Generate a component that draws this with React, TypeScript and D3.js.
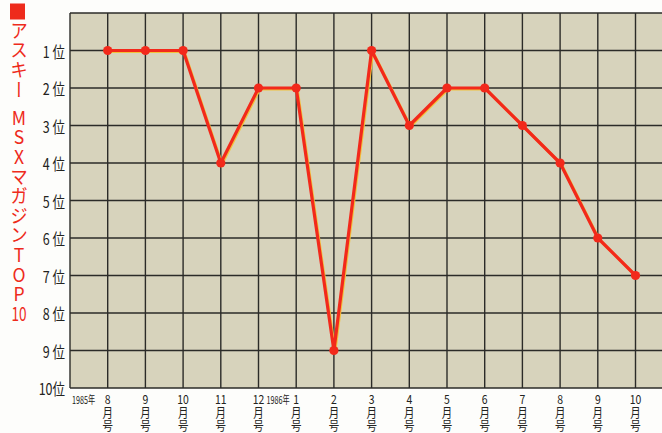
import * as d3 from "d3";
import { useEffect, useRef } from "react";

const months = ["8", "9", "10", "11", "12", "1", "2", "3", "4", "5", "6", "7", "8", "9", "10"];
const ranks = [1, 1, 1, 4, 2, 2, 9, 1, 3, 2, 2, 3, 4, 6, 7];
const rankTicks = [1, 2, 3, 4, 5, 6, 7, 8, 9, 10];
const yearLabels = [
  { index: -1, text: "1985年" },
  { index: 4, text: "1986年" },
];
const titleParts = [
  { top: 21, text: "アスキー" },
  { top: 108, text: "MSXマガジンTOP" },
];
const titleTail = "10";

export default function App() {
  const width = 662;
  const height = 433;
  const ref = useRef<SVGSVGElement>(null);

  useEffect(() => {
    const svg = d3.select(ref.current);
    svg.selectAll("*").remove();

    const left = 70;
    const top = 13;
    const bottom = 388;
    const x = d3.scaleLinear().domain([-1, 14]).range([left, 635.5]);
    const y = d3.scaleLinear().domain([0, 10]).range([top, bottom]);
    const jp = "'Noto Sans CJK JP', 'DejaVu Sans', sans-serif";

    svg.append("rect").attr("width", width).attr("height", height).attr("fill", "#fdfdfb");
    svg
      .append("rect")
      .attr("x", left)
      .attr("y", top)
      .attr("width", width - left)
      .attr("height", bottom - top)
      .attr("fill", "#d7d3bc");

    const grid = svg.append("g").attr("stroke", "#2b2b28").attr("stroke-width", 1.4);
    grid
      .selectAll("line.h")
      .data(d3.range(0, 11))
      .join("line")
      .attr("x1", left)
      .attr("x2", width)
      .attr("y1", (d) => y(d))
      .attr("y2", (d) => y(d));
    grid
      .selectAll("line.v")
      .data(d3.range(-1, 15))
      .join("line")
      .attr("x1", (d) => x(d))
      .attr("x2", (d) => x(d))
      .attr("y1", top)
      .attr("y2", bottom);

    // title, written top to bottom
    const title = svg.append("g").attr("fill", "#ee2b1c").attr("font-family", jp).attr("font-size", 16);
    title.append("rect").attr("x", 10).attr("y", 3.5).attr("width", 15).attr("height", 16);
    title
      .selectAll("text.part")
      .data(titleParts)
      .join("text")
      .attr("class", "part")
      .style("writing-mode", "vertical-rl")
      .style("text-orientation", "upright")
      .attr("letter-spacing", 0.33)
      .attr("transform", (d) => `translate(19,${d.top}) scale(1.1,1.2)`)
      .text((d) => d.text);
    title
      .append("text")
      .attr("text-anchor", "middle")
      .attr("dominant-baseline", "central")
      .attr("transform", "translate(19,313) scale(0.85,1.2)")
      .text(titleTail);

    // y labels
    svg
      .append("g")
      .attr("font-family", jp)
      .attr("font-size", 16)
      .attr("fill", "#232320")
      .selectAll("text")
      .data(rankTicks)
      .join("text")
      .attr("text-anchor", "end")
      .attr("dominant-baseline", "central")
      .attr("transform", (d) => `translate(65,${y(d)}) scale(0.78,1)`)
      .text((d) => `${d}${d === 10 ? "" : " "}位`);

    // x labels: number, then 月号 stacked
    const xl = svg
      .append("g")
      .attr("font-family", jp)
      .attr("font-size", 11)
      .attr("fill", "#232320")
      .selectAll("g")
      .data(months)
      .join("g")
      .attr("transform", (_, i) => `translate(${x(i)},0)`);
    xl.append("text")
      .attr("text-anchor", "middle")
      .attr("dominant-baseline", "central")
      .attr("transform", "translate(0,399) scale(0.95,1.15)")
      .text((d) => d);
    xl.append("text")
      .style("writing-mode", "vertical-rl")
      .attr("letter-spacing", 0.3)
      .attr("transform", "translate(0,406) scale(0.95,1.15)")
      .text("月号");

    svg
      .append("g")
      .attr("font-family", jp)
      .attr("font-size", 10)
      .attr("fill", "#232320")
      .selectAll("text")
      .data(yearLabels)
      .join("text")
      .attr("dominant-baseline", "central")
      .attr("transform", (d) => `translate(${x(d.index) + (d.index < 0 ? 2 : 8)},399) scale(0.72,1.1)`)
      .text((d) => d.text);

    // ranking line
    const line = d3
      .line<number>()
      .x((_, i) => x(i))
      .y((d) => y(d));
    svg
      .append("path")
      .datum(ranks)
      .attr("d", line)
      .attr("fill", "none")
      .attr("stroke", "#f2c23a")
      .attr("stroke-width", 3)
      .attr("transform", "translate(1,1)");
    svg
      .append("path")
      .datum(ranks)
      .attr("d", line)
      .attr("fill", "none")
      .attr("stroke", "#f2291b")
      .attr("stroke-width", 3.2)
      .attr("stroke-linejoin", "round");
    svg
      .append("g")
      .selectAll("circle")
      .data(ranks)
      .join("circle")
      .attr("cx", (_, i) => x(i))
      .attr("cy", (d) => y(d))
      .attr("r", 4.6)
      .attr("fill", "#f2291b");
  }, []);

  return (
    <svg
      ref={ref}
      width={width}
      height={height}
      style={{ position: "absolute", left: 0, top: 0 }}
    />
  );
}
